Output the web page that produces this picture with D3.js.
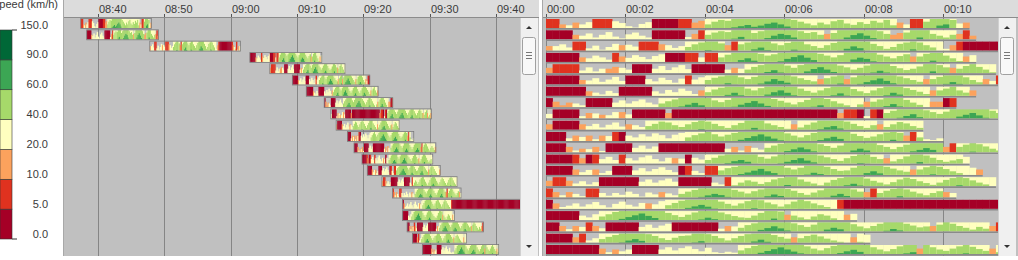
<!DOCTYPE html>
<html>
<head>
<meta charset="utf-8">
<script src="https://cdnjs.cloudflare.com/ajax/libs/d3/7.8.5/d3.min.js"></script>
<style>
  body { margin: 0; background: #fff; }
  text { font-family: Arial, "Liberation Sans", sans-serif; font-size: 11px; fill: #3a3a3a; }
</style>
</head>
<body>
<script>
// speed classes (km/h) used by the legend and the cell colours
const speedBreaks = [0, 5, 10, 20, 40, 60, 90, 150];
const speedLabels = ["0.0", "5.0", "10.0", "20.0", "40.0", "60.0", "90.0", "150.0"];

// trip start (time of day)
const tripStarts = [
  "08:37:24", "08:38:18", "08:47:48", "09:02:54", "09:05:54", "09:09:18", "09:11:24",
  "09:14:06", "09:15:06", "09:15:54", "09:17:36", "09:18:36", "09:19:48", "09:20:36",
  "09:22:48", "09:24:24", "09:25:54", "09:25:54", "09:26:36", "09:27:24", "09:28:54"
];

// speed per 10 s sample (km/h), one list per trip
const tripSpeeds = [
  [7,7,14,26,16,28,33,7,7,7,35,31,24,21,29,33,2,2,2,2,7,7,16,18,48,54,58,56,62,66,70,64,68,74,78,72,65,58,54,50,46,52,48,55,58,50,47,53,49,56,52,58,46,16,28,7,7,54,60,68,72,58,30,16],
  [2,2,2,2,15,28,33,24,30,36,26,22,31,35,28,24,2,2,2,2,2,25,16,7,50,55,58,56,62,68,60,54,58,64,72,78,74,66,58,54,56,50,16,54,60,66,74,80,72,64,58,52,15,17,55,60,66,60,52,48,44,50,16,7,14],
  [15,30,34,27,7,7,25,31,22,28,35,16,33,29,7,7,7,17,32,26,30,48,54,58,62,60,56,16,7,54,58,64,70,62,56,52,57,63,60,54,50,46,52,57,60,66,74,68,60,55,50,44,48,55,58,64,58,52,47,40,24,16,7,2,2,2,2,2,2,2,2,2,2,2,7,16,28,12,7,22,15,30],
  [2,2,2,2,2,15,28,34,30,25,7,16,29,35,31,26,33,37,2,2,2,7,7,30,7,7,50,56,60,66,72,64,58,54,57,62,70,76,82,74,66,58,54,50,55,60,68,74,70,62,56,52,48,53,57,16,52,58,64,60,54,48,42,16,35],
  [16,7,7,7,7,26,33,24,30,15,17,32,28,2,2,2,30,36,27,33,38,29,2,2,2,2,2,28,16,30,48,54,58,64,70,62,57,52,58,66,74,80,72,64,57,53,48,52,57,62,68,62,56,51,47,50,55,60,66,58,53,16,50,56,60,54,48,42],
  [2,2,2,2,2,15,29,34,26,31,37,28,2,2,2,32,27,35,30,24,33,7,31,36,50,55,58,64,60,56,52,57,63,70,78,72,66,58,54,50,47,16,54,58,63,16,56,62,68,74,80,72,64,58,54,50,46,16,52,57,62,68,62,56,50,45,16,28,7,2],
  [2,2,2,2,2,2,15,27,23,31,26,2,2,2,2,2,30,25,33,28,36,31,24,16,48,54,58,63,70,62,56,52,57,64,72,78,70,62,56,51,47,52,57,62,68,61,55,50,46,52,57,62,70,64,57,53,49,44,16,52,56,60,52,47,16],
  [2,16,12,15,28,24,2,2,2,2,30,35,28,33,37,30,26,48,53,57,62,68,74,66,60,55,51,56,61,68,74,80,72,64,58,54,50,46,51,56,61,66,58,53,48,44,40,46,16,52,57,63,70,62,56,50,45,40,16,16,2,7],
  [30,2,2,2,2,25,16,31,14,27,34,17,29,2,2,2,2,2,16,2,2,2,2,2,2,2,2,2,2,2,2,2,2,2,2,2,2,2,2,2,2,2,2,2,16,7,7,2,25,7,2,52,57,62,68,74,64,58,54,50,55,60,66,72,78,70,62,57,52,48,53,58,64,70,62,56,51,47,52,57,62,57,52,16,48,54,58,16,44,48,16],
  [16,2,2,2,2,16,28,33,25,31,36,27,16,30,26,48,53,58,56,50,46,52,57,62,58,53,48,44,50,55,60,66,60,54,50,46,42,16,45,51,56,62,68,72,64,58,53,48,44,50,16,46,52,57,54,48,44],
  [2,2,2,26,16,29,16,24,16,31,7,2,32,28,35,30,37,33,26,34,38,48,53,57,60,55,50,54,58,64,70,76,82,75,68,62,57,52,48,53,58,63,69,74,67,60,56,51,47,50,55,59,64,58,16,7,48,24,22,26],
  [2,2,2,16,24,14,27,16,23,2,2,2,2,30,35,28,33,2,2,2,2,2,2,2,2,2,2,28,16,24,17,30,26,50,55,59,64,70,76,70,63,58,54,50,55,60,66,72,66,60,56,52,47,52,57,63,68,74,68,60,16,7,52,57,62,58,53,48,44,50,54,50,45,16],
  [2,2,2,2,7,16,2,7,30,35,28,7,32,27,34,38,30,25,33,16,31,2,33,29,48,53,58,62,68,72,66,60,55,51,56,61,66,72,78,70,64,58,54,50,46,52,57,62,60,55,50,16,45,50,56,60,65,58,53,48,44,47,50,35],
  [2,2,2,2,16,26,31,16,24,29,2,2,2,30,35,28,33,37,31,26,2,7,29,24,7,7,50,55,58,63,68,74,80,72,66,60,56,52,56,61,67,63,58,53,49,50,56,60,66,72,65,58,54,50,47,16,52,57,62,58,53,48,44,40,36,16],
  [16,7,7,16,26,31,24,29,2,2,2,2,2,2,30,35,28,33,37,30,2,2,2,2,2,28,24,7,42,48,53,50,45,49,55,58,64,60,55,50,46,42,48,54,58,63,68,62,57,52,48,44,49,55,59,56,51,47,43,48,54,58,63,58,53,48,44,40],
  [7,16,25,16,28,23,7,7,30,24,30,26,33,28,22,31,27,16,29,25,48,53,57,62,67,72,68,62,57,53,49,54,58,64,70,65,59,55,50,46,51,56,60,66,72,65,58,53,16,7,50,55,59,64,58,53,49,45,50,54,16,30],
  [2,16,24,27,32,25,30,35,28,23,31,36,29,25,33,16,30,37,48,53,58,63,68,73,67,61,56,51,47,52,57,62,59,54,50,45,50,56,60,57,52,48,44,40,7,2,2,2,2,2,2,2,2,2,2,2,2,2,2,2,2,2,2,2,2,2,2,2,2,2,2,2,2,2,2,2,2,2,2,2,2,2,2,2,2,2,2,2,2,2,2,2,2,2,2,2,2,2,2,2,2,2,2,2,2,2,2,2],
  [2,2,2,2,2,30,26,33,48,53,58,64,70,76,82,74,67,60,56,51,47,52,57,62,68,63,57,53,49,46,45,50,56,60,65,59,16,50,46,42,48,53,50,44,40,16,34],
  [2,2,16,25,16,30,7,16,27,2,2,2,2,2,30,35,28,33,37,2,2,2,2,2,2,2,26,16,31,48,54,58,65,71,77,70,63,58,54,50,55,60,66,72,67,60,56,51,47,52,57,62,68,63,57,53,49,51,16,55,60,57,52,48,44,50,46,16,7],
  [2,2,2,2,16,7,25,30,48,53,57,61,67,72,66,59,55,50,46,51,55,56,61,65,59,55,50,45,50,55,59,64,70,63,57,53,49,16,50,55,58,54,49,45,42,40,16,42,38],
  [2,2,2,2,2,2,2,2,16,24,15,26,30,2,2,2,2,30,35,28,33,37,31,26,34,24,22,25,23,48,53,58,64,70,76,82,75,68,62,57,52,48,53,58,63,69,74,67,60,55,50,46,51,57,62,66,16,60,55,50,47,52,57,62,56,51,47,16,44]
];

const speedColors = ["#a50026", "#e0321f", "#fca25d", "#ffffbf", "#a6d96a", "#3ca654", "#006837"];
const W = 1018, H = 260;
const sampleSec = 10;
const parseT = d3.timeParse("%H:%M:%S");

const svg = d3.select("body").append("svg")
    .attr("width", W)
    .attr("height", H);

// ---- legend ----
const ly = d3.scalePoint().domain(speedBreaks).range([239, 30]);

svg.append("text")
    .attr("x", -8)
    .attr("y", 8)
    .style("font-size", "11px")
    .text("Speed (km/h)");

svg.append("g").selectAll("rect")
    .data(d3.range(7))
  .enter().append("rect")
    .attr("x", 0)
    .attr("y", i => ly(speedBreaks[i + 1]))
    .attr("width", 12)
    .attr("height", i => ly(speedBreaks[i]) - ly(speedBreaks[i + 1]))
    .attr("fill", i => speedColors[i])
    .attr("stroke", "#333")
    .attr("stroke-width", 0.6);

[0, 150].forEach(v => {
  svg.append("line")
      .attr("x1", 12).attr("x2", 17)
      .attr("y1", ly(v)).attr("y2", ly(v))
      .attr("stroke", "#333");
});

svg.append("g").selectAll("text")
    .data(speedBreaks)
  .enter().append("text")
    .attr("x", 48)
    .attr("y", d => ly(d) - 1.5)
    .attr("text-anchor", "end")
    .text((d, i) => speedLabels[i]);

// ---- shared helpers ----
const cls = d3.scaleThreshold().domain(speedBreaks.slice(1, -1)).range(d3.range(7));

// fill layers of one sample: [class, fraction of row height]
function layers(s) {
  const c = cls(s);
  if (c <= 1) return [[c, 1]];
  const f = (s - speedBreaks[c]) / (speedBreaks[c + 1] - speedBreaks[c]);
  if (c <= 3) return [[c, f]];
  return [[c - 1, 1], [c, f]];
}

const rowY = d3.scaleBand()
    .domain(d3.range(tripSpeeds.length))
    .range([19, 19 + 11.3 * tripSpeeds.length]);
const cellH = 9;

const trips = tripSpeeds.map((sp, i) => ({
  i,
  start: parseT(tripStarts[i]),
  cells: sp.map((s, k) => ({ k, s }))
}));

function drawRows(g, x0of, x1of, framed) {
  trips.forEach(t => {
    const y = rowY(t.i);
    const row = g.append("g");
    const xa = x0of(t, 0), xb = x1of(t, t.cells.length - 1);
    t.cells.forEach(c => {
      const a = x0of(t, c.k), b = x1of(t, c.k);
      layers(c.s).forEach(([ci, f]) => {
        if (f <= 0) return;
        row.append("rect")
            .attr("x", a)
            .attr("y", y + cellH * (1 - f))
            .attr("width", b - a + 0.3)
            .attr("height", cellH * f)
            .attr("fill", speedColors[ci]);
      });
    });
    if (framed) {
      row.append("rect")
          .attr("x", xa).attr("y", y - 0.5)
          .attr("width", xb - xa).attr("height", cellH + 1)
          .attr("fill", "none")
          .attr("stroke", "#7d7d7d")
          .attr("stroke-width", 0.8);
    } else {
      row.append("line")
          .attr("x1", xa).attr("x2", xb)
          .attr("y1", y + cellH + 0.9).attr("y2", y + cellH + 0.9)
          .attr("stroke", "#8a8a8a")
          .attr("stroke-width", 1.6);
    }
  });
}

function panel(x0, x1, scrollX) {
  svg.append("rect")
      .attr("x", x0).attr("y", 0)
      .attr("width", x1 - x0).attr("height", 256)
      .attr("fill", "#c0c0c0");
  svg.append("rect")
      .attr("x", x0).attr("y", 0)
      .attr("width", x1 - x0).attr("height", 17)
      .attr("fill", "#dcdcdc");
  svg.append("line")
      .attr("x1", x0).attr("x2", x1)
      .attr("y1", 17.5).attr("y2", 17.5)
      .attr("stroke", "#8c8c8c");
  svg.append("line")
      .attr("x1", x0 - 0.5).attr("x2", x0 - 0.5)
      .attr("y1", 0).attr("y2", 256)
      .attr("stroke", "#a8a8a8");
  const clipId = "clip" + x0;
  svg.append("clipPath").attr("id", clipId)
    .append("rect")
      .attr("x", x0).attr("y", 18)
      .attr("width", scrollX - x0).attr("height", 238);
  return svg.append("g").attr("clip-path", `url(#${clipId})`);
}

function axisTop(xs, ticks, fmt, xMin, xMax) {
  const g = svg.append("g");
  ticks.filter(d => xs(d) > xMin && xs(d) < xMax).forEach(d => {
    const x = Math.round(xs(d)) + 0.5;
    g.append("line")
        .attr("x1", x).attr("x2", x)
        .attr("y1", 14).attr("y2", 17)
        .attr("stroke", "#555");
    g.append("text")
        .attr("x", x + 0.5)
        .attr("y", 13)
        .attr("fill", "#444")
        .style("font-size", "11px")
        .text(fmt(d));
  });
}

function grid(g, xs, ticks) {
  g.selectAll("line.grid")
      .data(ticks)
    .enter().append("line")
      .attr("class", "grid")
      .attr("x1", d => Math.round(xs(d)) + 0.5)
      .attr("x2", d => Math.round(xs(d)) + 0.5)
      .attr("y1", 18).attr("y2", 256)
      .attr("stroke", "#858585");
}

function scrollbar(x) {
  const g = svg.append("g");
  g.append("rect")
      .attr("x", x).attr("y", 18)
      .attr("width", 18).attr("height", 238)
      .attr("fill", "#f0f0f0");
  g.append("line")
      .attr("x1", x + 0.5).attr("x2", x + 0.5)
      .attr("y1", 18).attr("y2", 256)
      .attr("stroke", "#d0d0d0");
  g.append("rect")
      .attr("x", x + 2.5).attr("y", 37.5)
      .attr("width", 13).attr("height", 37)
      .attr("rx", 2)
      .attr("fill", "#f8f8f8")
      .attr("stroke", "#a0a0a0");
  [52, 55, 58].forEach(yy => {
    g.append("line")
        .attr("x1", x + 6).attr("x2", x + 12)
        .attr("y1", yy + 0.5).attr("y2", yy + 0.5)
        .attr("stroke", "#777");
  });
  g.append("path")
      .attr("d", `M${x + 6},29 L${x + 12},29 L${x + 9},26 Z`)
      .attr("fill", "#333");
  g.append("path")
      .attr("d", `M${x + 6},245 L${x + 12},245 L${x + 9},248 Z`)
      .attr("fill", "#333");
}

// ---- left panel: time of day ----
const xLeft = d3.scaleTime()
    .domain([parseT("08:40:00"), parseT("09:40:00")])
    .range([98, 496]);
const leftTicks = xLeft.ticks(d3.timeMinute.every(10));
const gLeft = panel(64, 539, 520);
grid(gLeft, xLeft, leftTicks);
drawRows(gLeft,
  (t, k) => xLeft(d3.timeSecond.offset(t.start, k * sampleSec)),
  (t, k) => xLeft(d3.timeSecond.offset(t.start, (k + 1) * sampleSec)),
  true);
axisTop(xLeft, leftTicks, d3.timeFormat("%H:%M"), 64, 520);
scrollbar(520);

// ---- right panel: time since trip start ----
const xRight = d3.scaleLinear().domain([0, 10]).range([546, 943]);
const rightTicks = d3.range(0, 12, 2);
const gRight = panel(543, W, 998);
grid(gRight, xRight, rightTicks);
drawRows(gRight,
  (t, k) => xRight(k * sampleSec / 60),
  (t, k) => xRight((k + 1) * sampleSec / 60),
  false);
axisTop(xRight, rightTicks, d => "00:" + d3.format("02d")(d), 543, 998);
scrollbar(998);
</script>
</body>
</html>
